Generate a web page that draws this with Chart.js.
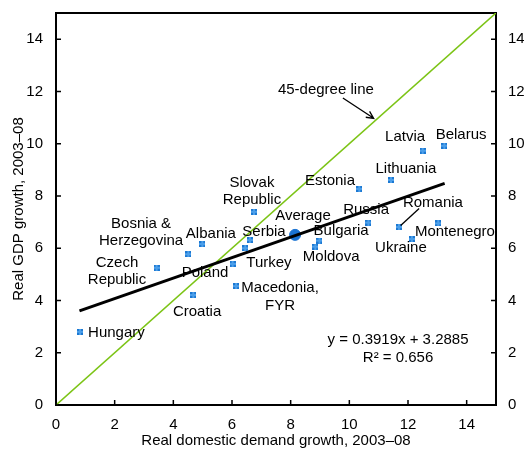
<!DOCTYPE html>
<html>
<head>
<meta charset="utf-8">
<script src="https://cdn.jsdelivr.net/npm/chart.js@4.4.1/dist/chart.umd.min.js"></script>
<style>
  html, body { margin: 0; padding: 0; background: #fff; }
  canvas { display: block; }
</style>
</head>
<body>
<canvas id="chart" width="524" height="450"></canvas>
<script>
// Real domestic demand growth (x) vs real GDP growth (y), 2003-08
const countries = ['Hungary', 'Czech Republic', 'Bosnia & Herzegovina', 'Albania', 'Croatia', 'Poland',
    'Turkey', 'Serbia', 'Slovak Republic', 'Macedonia, FYR', 'Bulgaria', 'Moldova', 'Estonia', 'Russia',
    'Lithuania', 'Romania', 'Ukraine', 'Montenegro', 'Latvia', 'Belarus'];
const demandGrowth = [0.82, 3.43, 4.51, 4.99, 4.68, 6.02, 6.45, 6.61, 6.75, 6.14, 8.98, 8.84, 10.34, 10.65,
    11.42, 11.69, 12.13, 13.03, 12.50, 13.24];
const gdpGrowth = [2.80, 5.25, 5.77, 6.16, 4.21, 5.40, 6.00, 6.31, 7.39, 4.55, 6.29, 6.06, 8.27, 6.98,
    8.61, 6.81, 6.35, 6.95, 9.73, 9.92];
const average = { x: 8.15, y: 6.51 };
const trendX = [0.8, 13.25];
const trendY = [3.60, 8.48];
const diagonal = [0, 15];
const axisTicks = [0, 2, 4, 6, 8, 10, 12, 14];

// label anchors (data units), text lines
const labels = [
    { text: ['Hungary'], x: 2.06, y: 2.76 },
    { text: ['Czech', 'Republic'], x: 2.08, y: 5.11 },
    { text: ['Bosnia &', 'Herzegovina'], x: 2.90, y: 6.60 },
    { text: ['Albania'], x: 5.28, y: 6.54 },
    { text: ['Croatia'], x: 4.81, y: 3.56 },
    { text: ['Poland'], x: 5.08, y: 5.05 },
    { text: ['Turkey'], x: 7.26, y: 5.43 },
    { text: ['Serbia'], x: 7.09, y: 6.62 },
    { text: ['Slovak', 'Republic'], x: 6.68, y: 8.17 },
    { text: ['Average'], x: 8.42, y: 7.23 },
    { text: ['Macedonia,', 'FYR'], x: 7.64, y: 4.13 },
    { text: ['Bulgaria'], x: 9.72, y: 6.66 },
    { text: ['Moldova'], x: 9.38, y: 5.66 },
    { text: ['Estonia'], x: 9.34, y: 8.57 },
    { text: ['Russia'], x: 10.57, y: 7.46 },
    { text: ['Lithuania'], x: 11.93, y: 9.03 },
    { text: ['Romania'], x: 12.85, y: 7.73 },
    { text: ['Montenegro'], x: 13.60, y: 6.62 },
    { text: ['Ukraine'], x: 11.76, y: 6.01 },
    { text: ['Latvia'], x: 11.90, y: 10.26 },
    { text: ['Belarus'], x: 13.81, y: 10.33 },
    { text: ['45-degree line'], x: 9.20, y: 12.05 },
    { text: ['y = 0.3919x + 3.2885', 'R\u00b2 = 0.656'], x: 11.66, y: 2.15 }
];
const arrows = [
    { from: [9.78, 11.75], to: [10.83, 10.97], head: true },
    { from: [12.38, 7.52], to: [11.75, 6.87], head: false }
];

const FONT = '"Liberation Sans", Arial, sans-serif';
Chart.defaults.font.family = FONT;
Chart.defaults.font.size = 15;
Chart.defaults.color = '#000';

// small excel-like square marker
function makeMarker() {
    const c = document.createElement('canvas');
    c.width = 6; c.height = 6;
    const g = c.getContext('2d');
    g.fillStyle = '#1b78d2';
    g.fillRect(0, 0, 6, 6);
    g.fillStyle = '#4c9fea';
    g.fillRect(2, 0, 2, 6);
    g.fillRect(0, 2, 6, 2);
    return c;
}

const overlay = {
    id: 'overlay',
    afterDraw(chart) {
        const { ctx } = chart;
        const xs = chart.scales.x, ys = chart.scales.y;
        const area = chart.chartArea;
        ctx.save();
        // inward tick marks
        ctx.strokeStyle = '#000';
        ctx.lineWidth = 1.5;
        ctx.beginPath();
        axisTicks.forEach(v => {
            const px = xs.getPixelForValue(v);
            ctx.moveTo(px, area.bottom); ctx.lineTo(px, area.bottom - 5);
            const py = ys.getPixelForValue(v);
            ctx.moveTo(area.left, py); ctx.lineTo(area.left + 5, py);
            ctx.moveTo(area.right, py); ctx.lineTo(area.right - 5, py);
        });
        ctx.stroke();

        // text labels
        ctx.fillStyle = '#000';
        ctx.font = '15px ' + FONT;
        ctx.textAlign = 'center';
        ctx.textBaseline = 'middle';
        labels.forEach(l => {
            const cx = xs.getPixelForValue(l.x);
            const cy = ys.getPixelForValue(l.y);
            const lh = 17.5;
            const top = cy - (l.text.length - 1) * lh / 2;
            l.text.forEach((t, i) => ctx.fillText(t, cx, top + i * lh));
        });

        // pointer lines
        ctx.lineWidth = 1.3;
        arrows.forEach(a => {
            const x1 = xs.getPixelForValue(a.from[0]), y1 = ys.getPixelForValue(a.from[1]);
            const x2 = xs.getPixelForValue(a.to[0]), y2 = ys.getPixelForValue(a.to[1]);
            ctx.beginPath();
            ctx.moveTo(x1, y1); ctx.lineTo(x2, y2);
            if (a.head) {
                const ang = Math.atan2(y2 - y1, x2 - x1);
                const len = 8;
                ctx.moveTo(x2 - len * Math.cos(ang - 0.45), y2 - len * Math.sin(ang - 0.45));
                ctx.lineTo(x2, y2);
                ctx.lineTo(x2 - len * Math.cos(ang + 0.45), y2 - len * Math.sin(ang + 0.45));
            }
            ctx.stroke();
        });
        ctx.restore();
    }
};

function noPad(s) {
    s.paddingTop = 0; s.paddingBottom = 0; s.paddingLeft = 0; s.paddingRight = 0;
}

const axisCommon = {
    type: 'linear',
    min: 0,
    max: 15,
    grid: { drawOnChartArea: false, drawTicks: false },
    border: { color: '#000', width: 2 }
};

new Chart(document.getElementById('chart'), {
    type: 'scatter',
    data: {
        datasets: [
            {
                label: 'Countries',
                data: countries.map((c, i) => ({ x: demandGrowth[i], y: gdpGrowth[i] })),
                pointStyle: makeMarker(),
                pointRadius: 3,
                order: 0
            },
            {
                label: 'Trend',
                type: 'line',
                data: trendX.map((x, i) => ({ x: x, y: trendY[i] })),
                borderColor: '#000',
                borderWidth: 3,
                pointRadius: 0,
                order: 1
            },
            {
                label: 'Average',
                data: [average],
                pointStyle: 'circle',
                pointRadius: 5.5,
                backgroundColor: '#1a73d2',
                borderColor: '#1a73d2',
                order: 2
            },
            {
                label: '45-degree line',
                type: 'line',
                data: diagonal.map(v => ({ x: v, y: v })),
                borderColor: '#7cc416',
                borderWidth: 1.6,
                pointRadius: 0,
                order: 3
            }
        ]
    },
    options: {
        responsive: false,
        animation: false,
        devicePixelRatio: 1,
        layout: { padding: 0 },
        plugins: { legend: { display: false }, tooltip: { enabled: false } },
        scales: {
            x: {
                ...axisCommon,
                position: 'bottom',
                ticks: { stepSize: 2, includeBounds: false, padding: 11, maxRotation: 0 },
                title: { display: true, text: 'Real domestic demand growth, 2003\u201308', padding: 0, font: { size: 15 } },
                afterFit(s) { s.height = 45; noPad(s); }
            },
            x2: {
                ...axisCommon,
                axis: 'x',
                position: 'top',
                ticks: { display: false },
                afterFit(s) { s.height = 13; noPad(s); }
            },
            y: {
                ...axisCommon,
                position: 'left',
                ticks: { stepSize: 2, includeBounds: false, padding: 13 },
                title: { display: true, text: 'Real GDP growth, 2003\u201308', padding: { top: 10, bottom: 0 }, font: { size: 15 } },
                afterFit(s) { s.width = 56; noPad(s); }
            },
            y2: {
                ...axisCommon,
                axis: 'y',
                position: 'right',
                ticks: { stepSize: 2, includeBounds: false, padding: 12 },
                afterFit(s) { s.width = 28; noPad(s); }
            }
        }
    },
    plugins: [overlay]
});
</script>
</body>
</html>
